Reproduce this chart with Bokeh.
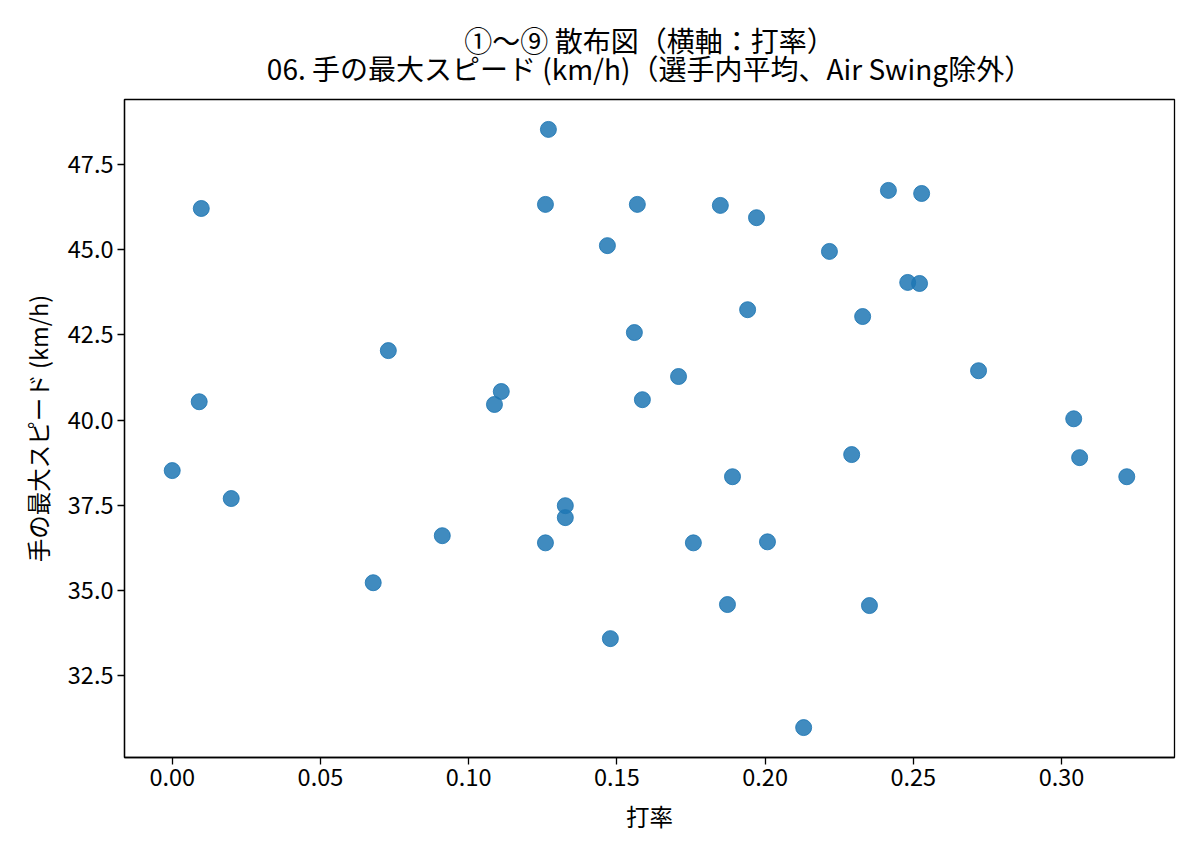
from bokeh.plotting import figure
from bokeh.models import (Range1d, FixedTicker, NumeralTickFormatter, LinearAxis,
                          ColumnDataSource)
from bokeh.embed import file_html
from bokeh.resources import INLINE

# --- data ---
batting_avg = [0.000, 0.0098, 0.0091, 0.0199, 0.0678, 0.0729, 0.0911, 0.1087, 0.1110, 0.1269,
               0.1259, 0.1259, 0.1326, 0.1326, 0.1468, 0.1478, 0.1559, 0.1569, 0.1586, 0.1708,
               0.1758, 0.1849, 0.1873, 0.1890, 0.1971, 0.1941, 0.2008, 0.2130, 0.2217, 0.2292,
               0.2329, 0.2352, 0.2416, 0.2481, 0.2521, 0.2528, 0.2720, 0.3041, 0.3061, 0.3220]
hand_speed = [38.52, 46.21, 40.54, 37.70, 35.23, 42.04, 36.61, 40.46, 40.84, 48.53,
              46.33, 36.40, 37.49, 37.14, 45.12, 33.59, 42.57, 46.33, 40.60, 41.28,
              36.40, 46.30, 34.59, 38.34, 45.94, 43.24, 36.43, 30.98, 44.95, 38.99,
              43.04, 34.56, 46.74, 44.04, 44.01, 46.65, 41.45, 40.04, 38.90, 38.34]
x_ticks = [0.00, 0.05, 0.10, 0.15, 0.20, 0.25, 0.30]
y_ticks = [32.5, 35.0, 37.5, 40.0, 42.5, 45.0, 47.5]
title_line1 = "①～⑨ 散布図（横軸：打率）"
title_line2 = "06. 手の最大スピード (km/h)（選手内平均、Air Swing除外）"
x_label = "打率"
y_label = "手の最大スピード (km/h)"

FONT = "Noto Sans CJK JP"

def padded(vals, frac=0.05):
    lo, hi = min(vals), max(vals)
    m = (hi - lo) * frac
    return lo - m, hi + m

x0, x1 = padded(batting_avg)
y0, y1 = padded(hand_speed)

p = figure(width=1184, height=841, output_backend="svg", toolbar_location=None,
           x_range=Range1d(x0, x1), y_range=Range1d(y0, y1),
           min_border_left=124, min_border_right=10, min_border_top=99, min_border_bottom=84)

src = ColumnDataSource(data=dict(x=batting_avg, y=hand_speed))
p.scatter("x", "y", source=src, size=16, fill_color="#1f77b4", line_color="#1f77b4",
          fill_alpha=0.85, line_alpha=0.85)

p.xgrid.visible = False
p.ygrid.visible = False
p.outline_line_color = "black"
p.outline_line_width = 1.3
p.background_fill_color = "white"
p.border_fill_color = "white"

for ax in (p.xaxis[0], p.yaxis[0]):
    ax.axis_line_color = "black"
    ax.axis_line_width = 1.3
    ax.major_tick_line_color = "black"
    ax.major_tick_line_width = 1.3
    ax.major_tick_out = 7
    ax.major_tick_in = 0
    ax.minor_tick_line_color = None
    ax.major_label_text_font = FONT
    ax.major_label_text_font_size = "23.5px"
    ax.major_label_text_color = "black"
    ax.axis_label_text_font = FONT
    ax.axis_label_text_font_size = "23.5px"
    ax.axis_label_text_font_style = "normal"
    ax.axis_label_text_color = "black"
    ax.major_label_standoff = 4

p.xaxis[0].ticker = FixedTicker(ticks=x_ticks)
p.yaxis[0].ticker = FixedTicker(ticks=y_ticks)
p.xaxis[0].formatter = NumeralTickFormatter(format="0.00")
p.yaxis[0].formatter = NumeralTickFormatter(format="0.0")
p.xaxis[0].axis_label = x_label
p.yaxis[0].axis_label = y_label
p.xaxis[0].axis_label_standoff = 10
p.yaxis[0].axis_label_standoff = 10

# two-line title carried by tick-less axes above the frame (tight line spacing)
p.title = None

def title_axis(text, standoff):
    return LinearAxis(ticker=FixedTicker(ticks=[]), axis_label=text,
                      axis_line_color=None, major_tick_line_color=None,
                      major_tick_out=0, major_tick_in=0, major_label_standoff=0,
                      minor_tick_line_color=None, major_label_text_font_size="0px",
                      axis_label_text_font=FONT, axis_label_text_font_size="28px",
                      axis_label_text_font_style="normal", axis_label_text_color="black",
                      axis_label_standoff=standoff)

p.add_layout(title_axis(title_line2, 12), "above")
p.add_layout(title_axis(title_line1, -15), "above")

open("out.html", "w").write(file_html(p, INLINE))
